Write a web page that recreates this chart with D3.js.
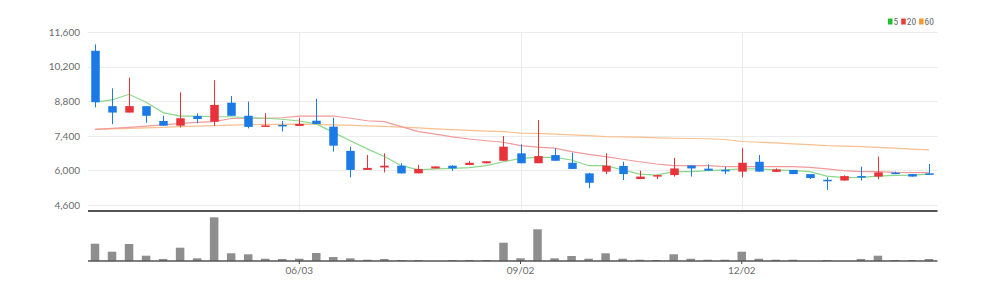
<!DOCTYPE html>
<html>
<head>
<meta charset="utf-8">
<script src="https://cdn.jsdelivr.net/npm/d3@7"></script>
<style>
  html, body { margin: 0; padding: 0; background: #fff; }
  svg { display: block; }
  text { font-family: "Liberation Sans Narrow", "Roboto Condensed", Lato, sans-serif; }
</style>
</head>
<body>
<svg id="chart" width="997" height="293"></svg>
<script>
// ---- data (weekly candles) ----
const dates = ["2024-03-11","2024-03-18","2024-03-25","2024-04-01","2024-04-08","2024-04-15","2024-04-22","2024-04-29","2024-05-06","2024-05-13",
  "2024-05-20","2024-05-27","2024-06-03","2024-06-10","2024-06-17","2024-06-24","2024-07-01","2024-07-08","2024-07-15","2024-07-22",
  "2024-07-29","2024-08-05","2024-08-12","2024-08-19","2024-08-26","2024-09-02","2024-09-09","2024-09-16","2024-09-23","2024-09-30",
  "2024-10-07","2024-10-14","2024-10-21","2024-10-28","2024-11-04","2024-11-11","2024-11-18","2024-11-25","2024-12-02","2024-12-09",
  "2024-12-16","2024-12-23","2024-12-30","2025-01-06","2025-01-13","2025-01-20","2025-01-27","2025-02-03","2025-02-10","2025-02-17"];
const openP  = [10840,8600,8340,8600,8000,7810,8200,7970,8740,8210, 7770,7840,7800,8010,7770,6790,6020,6120,6190,5880,
                6080,6190,6220,6290,6390,6690,6290,6620,6310,5880, 5950,6180,5650,5770,5810,6200,6070,6020,5950,6350,
                5940,6020,5850,5620,5590,5770,5750,5910,5850,5880];
const highP  = [11100,9320,9750,8600,8210,9160,8310,9650,9010,8780, 8310,8000,8130,8900,8130,6960,6620,6690,6290,6220,
                6170,6210,6370,6370,7390,7060,8040,6900,6720,5900, 6690,6350,5990,5820,6510,6200,6250,6150,6900,6620,
                6080,6020,5850,5720,5800,6150,6560,5950,5850,6260];
const lowP   = [8550,7870,8340,7930,7810,7740,7910,7800,8210,7700, 7770,7570,7800,7880,6760,5720,6020,5920,5870,5880,
                6080,5980,6220,6280,6390,6280,6290,6390,6060,5280, 5850,5610,5650,5650,5750,5750,5990,5850,5720,5950,
                5940,5850,5650,5210,5590,5590,5640,5850,5750,5830];
const closeP = [8760,8340,8600,8210,7810,8110,8080,8650,8210,7760, 7820,7820,7880,7880,7000,6020,6100,6190,5880,6060,
                6160,6080,6310,6370,6960,6290,6580,6390,6060,5500, 6190,5850,5750,5810,6080,6080,5990,6010,6310,5950,
                6040,5850,5690,5610,5770,5720,5920,5850,5750,5830];
const volume = [346,186,340,106,40,266,54,874,154,134, 46,40,46,160,80,54,26,40,20,20,
                0,20,20,20,366,54,634,54,100,46, 154,46,26,20,134,46,26,26,186,46,
                26,26,0,20,0,40,106,20,20,40];
const ma5  = [8760,8850,9080,8760,8340,8200,8200,8170,8170,8130, 8110,8070,8000,7880,7540,7200,6870,6560,6190,6020,
              6060,6080,6110,6190,6350,6490,6530,6530,6420,6190, 6190,6020,5850,5810,5950,5950,5990,6020,6060,6060,
              6020,5990,5950,5770,5710,5720,5770,5800,5810,5850];
const ma20 = [7660,7700,7740,7790,7840,7900,7940,7970,8100,8110, 8110,8130,8200,8200,8200,8110,8010,7970,7770,7570,
              7470,7360,7270,7200,7140,7000,6940,6900,6760,6650, 6560,6450,6350,6260,6190,6190,6190,6150,6150,6150,
              6150,6150,6120,6060,5990,5950,5950,5920,5910,5910];
const ma60 = [7660,7680,7700,7720,7740,7770,7790,7810,7830,7850, 7860,7860,7870,7860,7840,7820,7800,7780,7750,7720,
              7680,7650,7620,7590,7570,7510,7500,7470,7440,7410, 7370,7360,7350,7320,7300,7290,7280,7250,7170,7140,
              7110,7070,7040,7000,6980,6960,6930,6900,6860,6830];
const priceTicks = [4600,6000,7400,8800,10200,11600];
const xTickDates = ["2024-06-03","2024-09-02","2024-12-02"];
const maNames = ["5","20","60"];

const svg = d3.select("#chart");
const left = 86.5, right = 937.5;
const priceTop = 32, priceBottom = 205, sepY = 211;
const volTop = 217.3, volBase = 261;

const x = d3.scaleBand().domain(dates).range([left, right]).paddingInner(0).paddingOuter(0);
const cx = d => x(d) + x.bandwidth() / 2;
const y = d3.scaleLinear().domain([4600, 11600]).range([priceBottom, priceTop]);
const yv = d3.scaleLinear().domain([0, d3.max(volume)]).range([volBase, volTop]);

const RED = "#e8333b", BLUE = "#1c7ae6";
const maColors = ["#8ad88a", "#f39a9a", "#f8c08e"];
const legendColors = ["#1fbf2f", "#ec3b3b", "#f7992f"];

// grid
const gridH = svg.append("g");
gridH.selectAll("line").data(priceTicks).join("line")
  .attr("x1", 88).attr("x2", right).attr("y1", d => Math.round(y(d)) + 0.5).attr("y2", d => Math.round(y(d)) + 0.5)
  .attr("stroke", "#ececec").attr("stroke-width", 1);
svg.append("g").selectAll("line").data(xTickDates).join("line")
  .attr("x1", d => Math.round(cx(d)) + 0.5).attr("x2", d => Math.round(cx(d)) + 0.5)
  .attr("y1", priceTop).attr("y2", sepY)
  .attr("stroke", "#ececec").attr("stroke-width", 1);

// y axis labels
const yAxis = d3.axisLeft(y).tickValues(priceTicks).tickFormat(d3.format(",")).tickSize(0).tickPadding(4);
const gy = svg.append("g").attr("transform", "translate(84,0)").call(yAxis);
gy.select(".domain").remove();
gy.selectAll("text").attr("fill", "#6b6b6b").attr("font-size", "10px")
  .style("font-family", '"Liberation Sans Narrow", Lato, sans-serif');

// moving average lines
const mas = [ma5, ma20, ma60];
const lineGen = arr => d3.line().x((d, i) => cx(dates[i])).y(d => y(d))(arr);
[2,1,0].forEach(k => {
  svg.append("path").attr("d", lineGen(mas[k])).attr("fill", "none")
    .attr("stroke", maColors[k]).attr("stroke-width", 1.2);
});

// candles
const candles = dates.map((d, i) => ({ d, o: openP[i], h: highP[i], l: lowP[i], c: closeP[i] }));
const bw = x.bandwidth() * 0.5;
const cg = svg.append("g").selectAll("g").data(candles).join("g");
cg.append("line")
  .attr("x1", d => Math.round(cx(d.d)) + 0.5).attr("x2", d => Math.round(cx(d.d)) + 0.5)
  .attr("y1", d => y(d.h)).attr("y2", d => y(d.l))
  .attr("stroke", d => d.c >= d.o ? RED : BLUE).attr("stroke-width", 1);
cg.append("rect")
  .attr("x", d => Math.round(cx(d.d)) + 0.5 - bw / 2).attr("width", bw)
  .attr("y", d => y(Math.max(d.o, d.c)))
  .attr("height", d => Math.max(1.5, Math.abs(y(d.o) - y(d.c))))
  .attr("fill", d => d.c >= d.o ? RED : BLUE);

// separator
svg.append("line").attr("x1", 88).attr("x2", right).attr("y1", sepY).attr("y2", sepY)
  .attr("stroke", "#555").attr("stroke-width", 2);

// volume
svg.append("g").selectAll("rect").data(dates).join("rect")
  .attr("x", d => cx(d) - bw / 2).attr("width", bw)
  .attr("y", (d, i) => yv(volume[i])).attr("height", (d, i) => volBase - yv(volume[i]))
  .attr("fill", "#8e8e8e");

// x axis
const xAxis = d3.axisBottom(x).tickValues(xTickDates)
  .tickFormat(d => d.slice(5, 7) + "/" + d.slice(8, 10)).tickSize(3).tickPadding(3);
const gx = svg.append("g").attr("transform", `translate(0,${volBase})`).call(xAxis);
gx.select(".domain").attr("stroke", "#555").attr("stroke-width", 1.5)
  .attr("d", `M88,0H${right}`);
gx.selectAll(".tick line").attr("stroke", "#444");
gx.selectAll("text").attr("fill", "#6b6b6b").attr("font-size", "10px")
  .style("font-family", '"Liberation Sans Narrow", Lato, sans-serif');

// legend
const lg = svg.append("g").attr("transform", "translate(888,0)");
let lx = 0;
maNames.forEach((n, k) => {
  lg.append("rect").attr("x", lx).attr("y", 18.5).attr("width", 4.5).attr("height", 6).attr("fill", legendColors[k]);
  const t = lg.append("text").attr("x", lx + 5.5).attr("y", 25).attr("font-size", "9.5px")
    .attr("fill", "#6b6b6b").text(n);
  lx += 5.5 + t.node().getComputedTextLength() + 3;
});
</script>
</body>
</html>
